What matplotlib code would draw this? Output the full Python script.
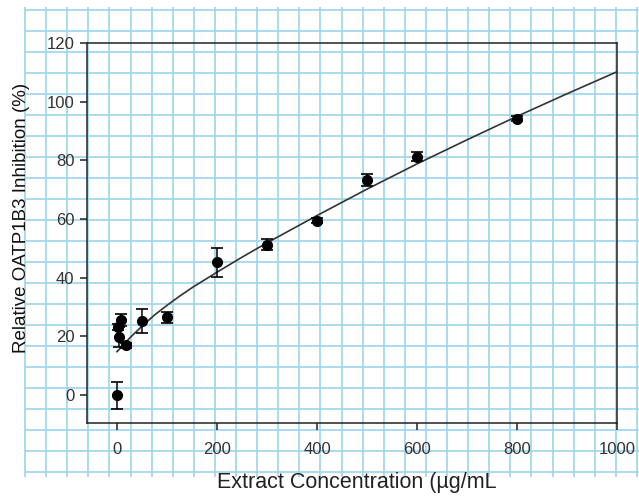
import numpy as np
import matplotlib
matplotlib.use("Agg")
import matplotlib.pyplot as plt

plt.rcParams["font.family"] = ["Liberation Sans", "DejaVu Sans"]

# Measured inhibition (mean and error) at each extract concentration
conc = [0, 1, 3, 8, 18, 50, 100, 200, 300, 400, 500, 600, 800]
inhibition = [0.0, 23.2, 19.7, 25.5, 17.0, 25.3, 26.5, 45.3, 51.3, 59.5, 73.3, 81.3, 94.2]
inhibition_err = [4.6, 1.0, 3.4, 2.0, 0.8, 4.2, 1.8, 5.0, 2.0, 0.8, 2.0, 1.4, 0.8]

# Fitted curve
fit_x = [0, 5, 10, 25, 50, 75, 100, 125, 150, 200, 250, 300, 400, 500, 600, 700, 800, 900, 1000]
fit_y = [14.8, 15.7, 16.6, 19.4, 23.5, 27.3, 30.6, 33.7, 36.6, 41.9, 47.0, 51.9, 61.2, 70.2, 78.8, 87.0, 95.0, 102.7, 110.2]

x_ticks = [0, 200, 400, 600, 800, 1000]
y_ticks = [0, 20, 40, 60, 80, 100, 120]

W, H = 639, 496
fig = plt.figure(figsize=(W / 100, H / 100), dpi=100)

# graph paper behind everything, laid out in pixels
bg = fig.add_axes([0, 0, 1, 1], zorder=0)
bg.set_xlim(0, W)
bg.set_ylim(H, 0)
bg.axis("off")
paper = "#9fd6ea"
for gx in 25 + 21.1 * np.arange(30):
    bg.plot([gx, gx], [7, 477], color=paper, lw=1.25, solid_capstyle="butt")
for gy in 10 + 21.0 * np.arange(23):
    bg.plot([25, W], [gy, gy], color=paper, lw=1.25, solid_capstyle="butt")

ax = fig.add_axes([87 / W, 1 - 423 / H, 530 / W, 380 / H], zorder=1)
ax.patch.set_alpha(0)

ax.plot(fit_x, fit_y, color="#333333", lw=1.2, zorder=2)
ax.errorbar(conc, inhibition, yerr=inhibition_err, fmt="o", color="black",
            ms=7, elinewidth=1.1, capsize=4.5, capthick=1.2, zorder=3)

ax.set_xlim(-60, 1000)
ax.set_ylim(-9.5, 120)
ax.set_xticks(x_ticks)
ax.set_yticks(y_ticks)

for s in ax.spines.values():
    s.set_linewidth(1.1)
    s.set_color("#222222")
ax.tick_params(direction="out", length=5, width=1.1, color="#222222",
               labelsize=12, labelcolor="#333333")
ax.tick_params(axis="x", pad=9)
ax.tick_params(axis="y", pad=4)

ax.set_xlabel("Extract Concentration (µg/mL", fontsize=15.5, color="#222222")
ax.set_ylabel("Relative OATP1B3 Inhibition (%)", fontsize=13.5, color="#111111")
ax.xaxis.set_label_coords(0.51, -0.13)
ax.yaxis.set_label_coords(-0.108, 0.54)

fig.savefig("out.png", dpi=100)
